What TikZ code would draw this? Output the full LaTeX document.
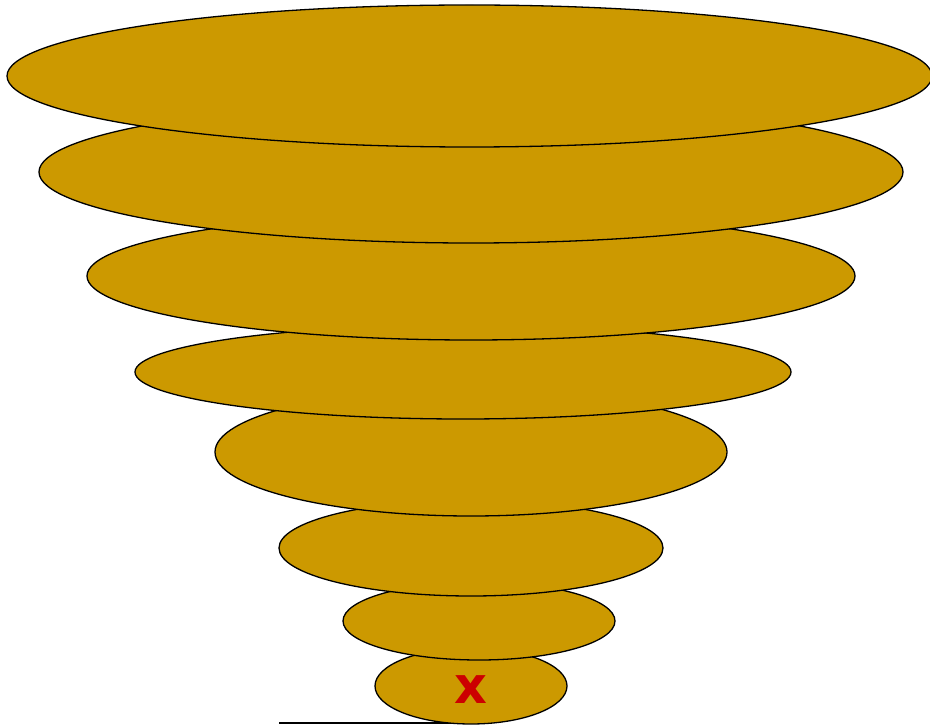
\documentclass[tikz,border=0pt]{standalone}
\usepackage{fontspec}
\usepackage{tikz}
\usetikzlibrary{shapes.geometric,positioning}
\newfontfamily\markfont{DejaVu Sans}
\definecolor{honey}{HTML}{CC9900}
\definecolor{mark}{HTML}{CC0000}

\begin{document}
\begin{tikzpicture}[x=1pt,y=-1pt,
  layer/.style={ellipse,draw=black,fill=honey,line width=1.3pt,inner sep=0pt}]
  \useasboundingbox (0,0) rectangle (930,727);
  % base line under the tip
  \coordinate (base west) at (279,723);
  \coordinate (base east) at (455,723);
  \draw[line width=1.4pt] (base west) -- (base east);

  % layers, drawn from the tip upwards
  \node[layer,minimum width=192pt,minimum height=76pt] (l8) at (471,686) {};
  \node[layer,minimum width=272pt,minimum height=78pt] (l7) at (479,621) {};
  \node[layer,minimum width=384pt,minimum height=96pt] (l6) at (471,548) {};
  \node[layer,minimum width=512pt,minimum height=128pt] (l5) at (471,452) {};
  \node[layer,minimum width=656pt,minimum height=94pt] (l4) at (463,372) {};
  \node[layer,minimum width=768pt,minimum height=128pt] (l3) at (471,276) {};
  \node[layer,minimum width=864pt,minimum height=142pt] (l2) at (471,172) {};
  \node[layer,minimum width=925pt,minimum height=142pt] (l1) at (469.5,76) {};

  \node[font=\markfont\bfseries\fontsize{51}{51}\selectfont,text=mark,inner sep=0pt]
    (tip) at (470.5,690) {x};
\end{tikzpicture}
\end{document}
